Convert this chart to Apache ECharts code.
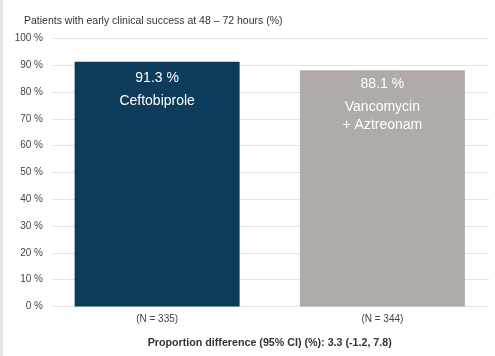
<!DOCTYPE html>
<html><head><meta charset="utf-8">
<script src="https://cdn.jsdelivr.net/npm/echarts@6/dist/echarts.min.js"></script>
<style>html,body{margin:0;padding:0;background:#fff}#c{width:495px;height:356px}</style>
</head><body><div id="c"></div>
<script>
const titleText = 'Patients with early clinical success at 48 \u2013 72 hours (%)';
const categories = ['(N = 335)', '(N = 344)'];
const treatments = ['Ceftobiprole', 'Vancomycin\n+ Aztreonam'];
const values = [91.3, 88.1];
const barColors = ['#0d3b5c', '#b0aba8'];
const labelDist = [3, 0];
const footnote = 'Proportion difference (95% CI) (%): 3.3 (-1.2, 7.8)';

const font = 'Liberation Sans, Arial, sans-serif';
const chart = echarts.init(document.getElementById('c'));
chart.setOption({
  animation: false,
  title: { text: titleText, left: 19, top: 11, textStyle: { fontFamily: font, fontSize: 10.5, fontWeight: 'normal', color: '#333' } },
  graphic: [{ type: 'rect', shape: { x: 0, y: 0, width: 3, height: 356 }, style: { fill: '#e6e6e6' } }],
  grid: [
    { left: 52, right: 6, top: 38.3, bottom: 49.5 },
    { left: 44.5, width: 452, top: 38.3, bottom: 49.5 }
  ],
  xAxis: [
    { gridIndex: 0, type: 'category', data: categories, show: false },
    { gridIndex: 1, type: 'category', data: categories,
      axisLine: { show: false }, axisTick: { show: false },
      axisLabel: { margin: 8, fontFamily: font, fontSize: 10, color: '#444' },
      name: footnote, nameLocation: 'middle', nameGap: 31,
      nameTextStyle: { fontFamily: font, fontSize: 10.7, fontWeight: 'bold', color: '#333' } }
  ],
  yAxis: [
    { gridIndex: 0, type: 'value', min: 0, max: 100, interval: 10,
      axisLine: { show: false }, axisTick: { show: false },
      axisLabel: { formatter: '{value} %', margin: 9, fontFamily: font, fontSize: 10, color: '#444' },
      splitLine: { lineStyle: { color: '#e3e3e3', width: 1 } } },
    { gridIndex: 1, type: 'value', min: 0, max: 100, interval: 10, show: false, splitLine: { show: false } }
  ],
  series: [{
    type: 'bar', xAxisIndex: 1, yAxisIndex: 1, barWidth: 165,
    data: values.map((v, i) => ({
      value: v,
      itemStyle: { color: barColors[i] },
      label: {
        show: true, position: 'insideTop', distance: labelDist[i],
        formatter: '{v|' + v.toFixed(1) + ' %}\n' + treatments[i].split('\n').map(s => '{n|' + s + '}').join('\n'),
        rich: {
          v: { fontFamily: font, fontSize: 14, color: '#fff', lineHeight: 28 },
          n: { fontFamily: font, fontSize: 14, color: '#fff', lineHeight: 18 }
        }
      }
    }))
  }]
});
</script></body></html>
